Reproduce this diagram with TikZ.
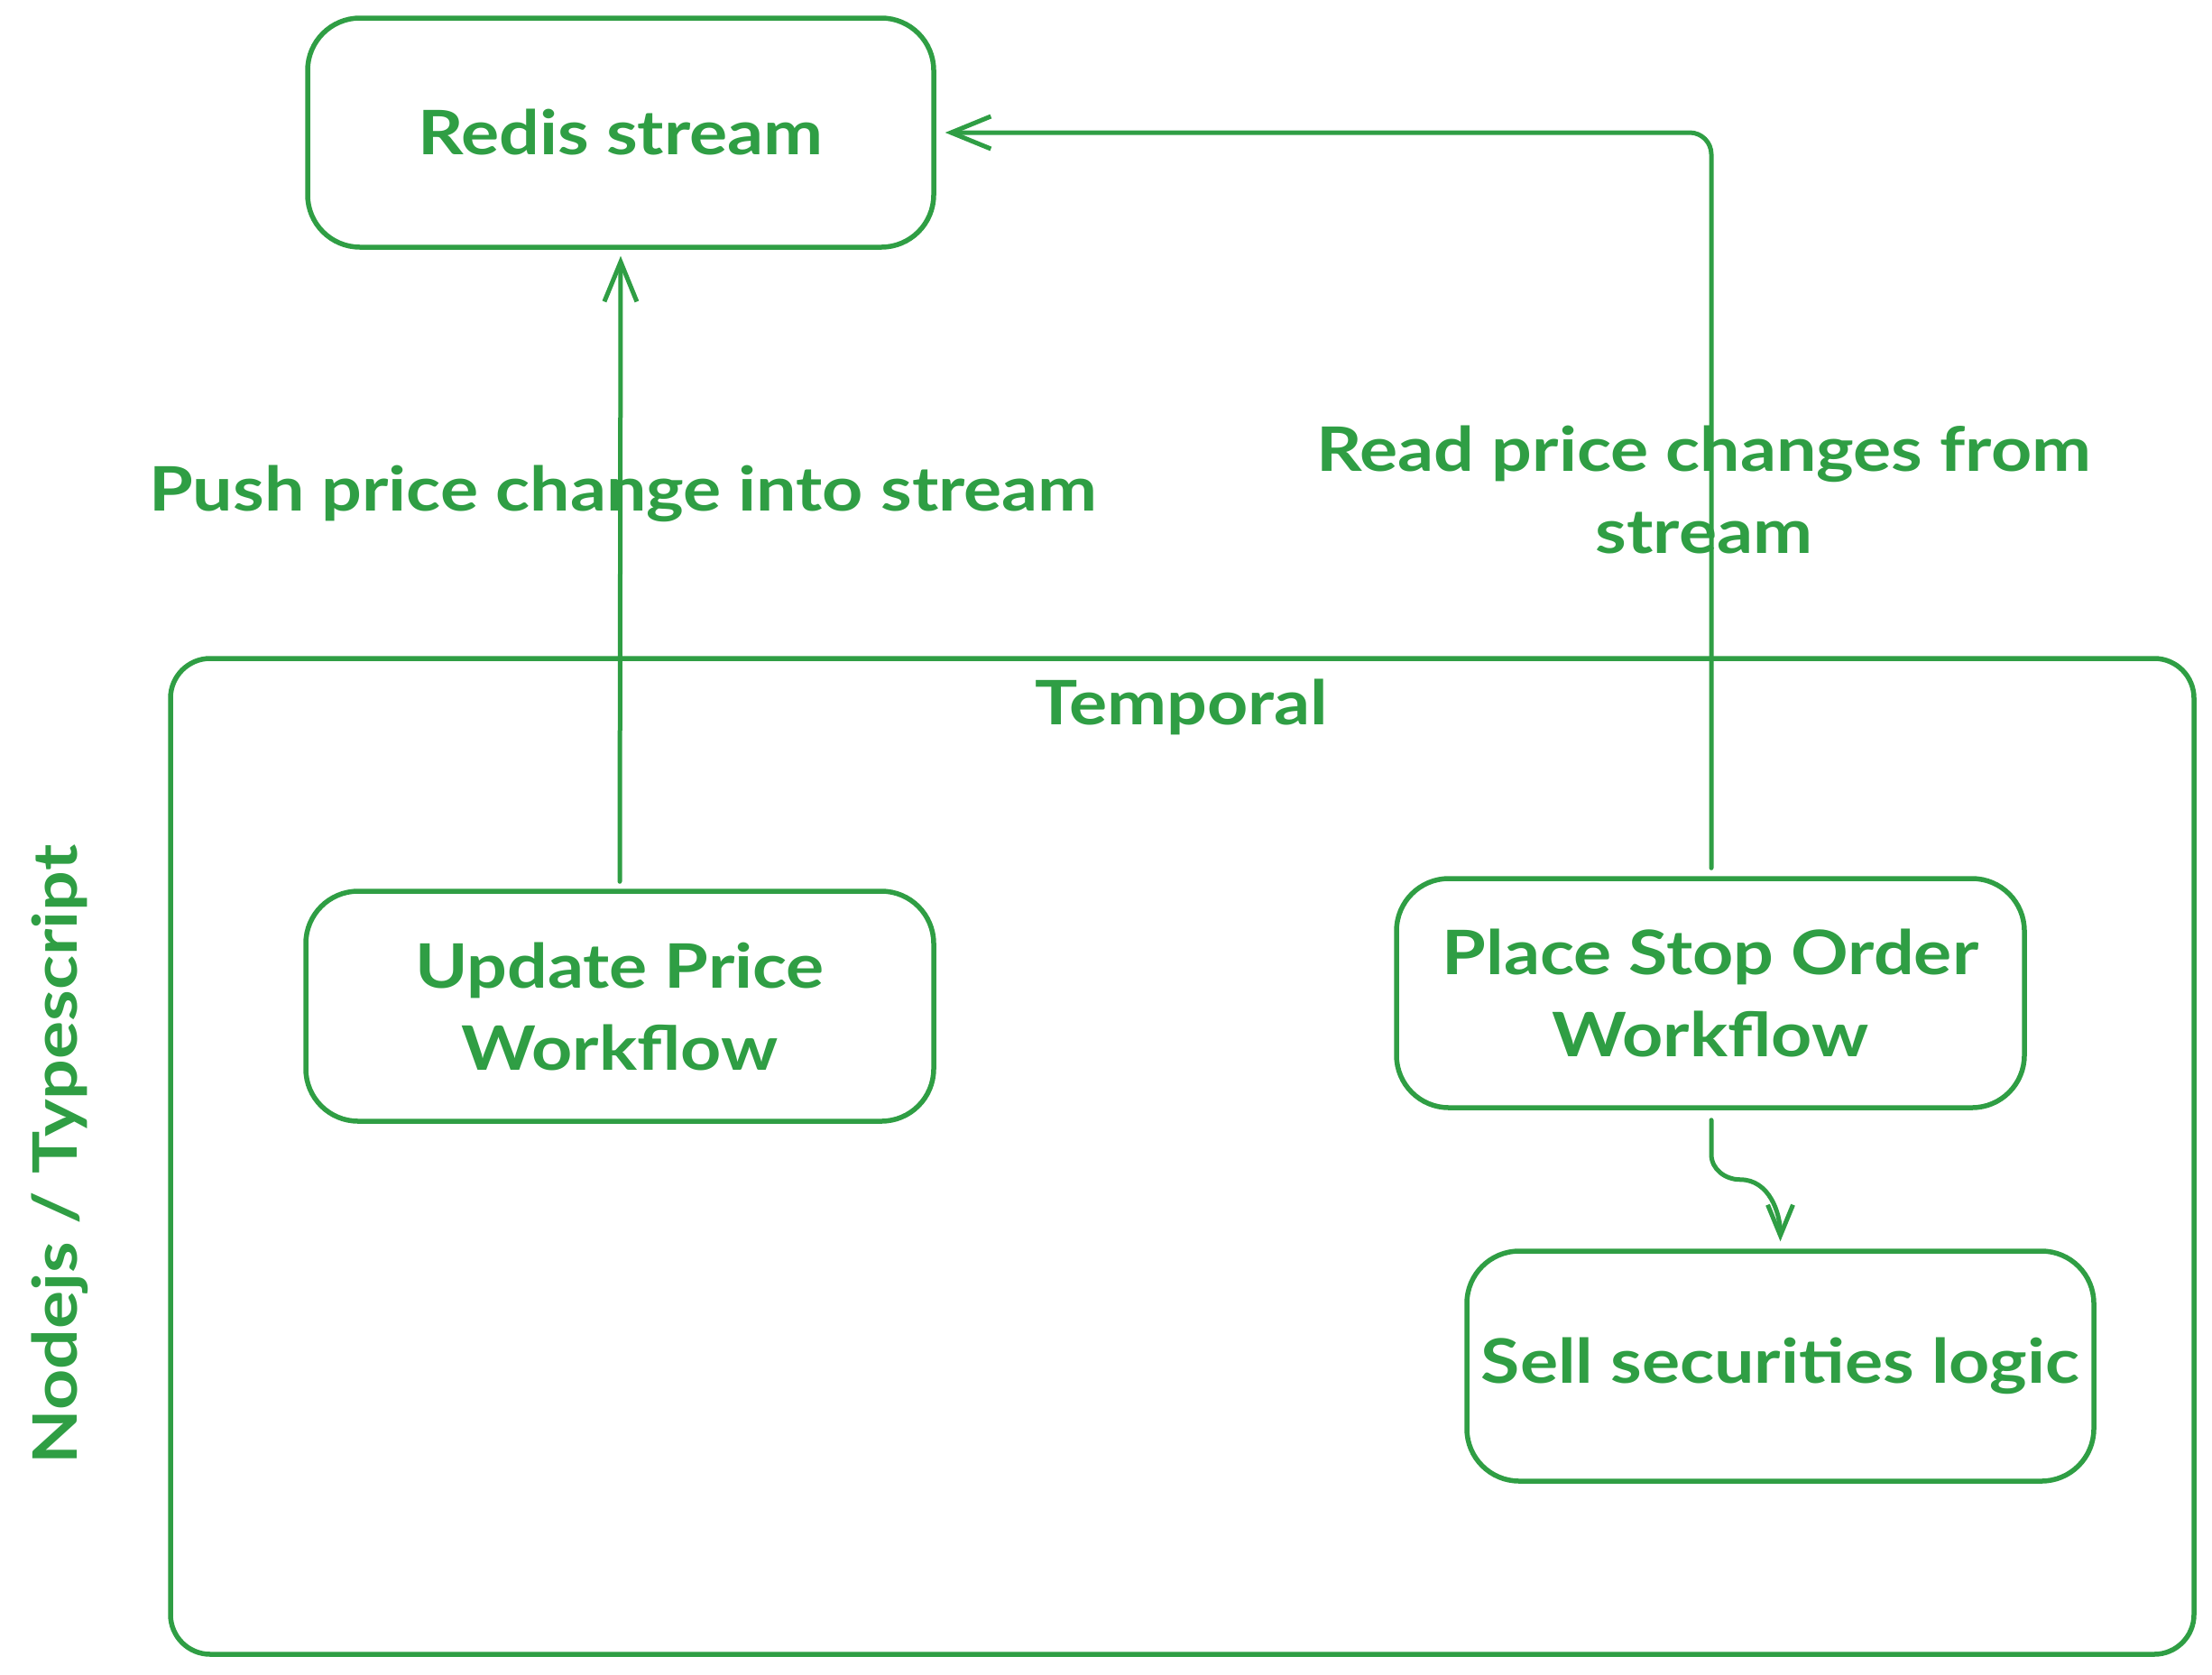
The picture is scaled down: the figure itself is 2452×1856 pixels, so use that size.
\documentclass[tikz,border=0pt]{standalone}
\usepackage{fontspec}
\setmainfont{Lato}[FakeStretch=1.16]
\usetikzlibrary{arrows.meta}
\definecolor{exgreen}{HTML}{2F9E44}
\tikzset{
  box/.style={draw=exgreen, line width=5.5pt, rounded corners=58pt, text=exgreen, align=center, inner sep=0pt},
  lbl/.style={text=exgreen, align=center, inner sep=0pt},
  arr/.style={draw=exgreen, line width=5pt, line cap=round, -{Straight Barb[length=44pt,width=36pt,line width=5pt]}},
  arrsmall/.style={draw=exgreen, line width=5pt, line cap=round, -{Straight Barb[length=34pt,width=28pt,line width=5pt]}},
  big/.style={font=\fontsize{68}{91}\selectfont\bfseries}
}
\begin{document}
\begin{tikzpicture}[x=1pt,y=-1pt]
\useasboundingbox (0,0) rectangle (2452,1856);
\node[box, big, minimum width=694pt, minimum height=254pt] (redis) at (688,147) {Redis stream};
\node[box, minimum width=2243pt, minimum height=1104pt, rounded corners=44pt] (temporal) at (1310.5,1282) {};
\node[lbl, big] (templbl) at (1310,784) {Temporal};
\node[lbl, big, rotate=90] (nodelbl) at (66,1280) {Nodejs / Typescript};
\node[box, big, minimum width=696pt, minimum height=255pt] (upd) at (687,1115.5) {Update Price\\Workflow};
\node[box, big, minimum width=696pt, minimum height=254pt] (place) at (1896,1101) {Place Stop Order\\Workflow};
\node[box, big, minimum width=695pt, minimum height=255pt] (sell) at (1973.5,1514.5) {Sell securities logic};
\node[lbl, big] (pushlbl) at (691,547) {Push price change into stream};
\node[lbl, big] (readlbl) at (1889,543) {Read price changes from\\stream};
\draw[arr] ([yshift=8pt]upd.north) -- ([yshift=-7pt]redis.south);
\draw[arr, rounded corners=24pt] ([xshift=1pt,yshift=9pt]place.north) |- ([xshift=10pt]redis.east);
\draw[arrsmall] ([xshift=1pt,yshift=-11pt]place.south) -- ++(0,38) to[out=-90,in=180] ++(32,28) to[out=0,in=90] ([yshift=8pt]sell.north);
\end{tikzpicture}
\end{document}
